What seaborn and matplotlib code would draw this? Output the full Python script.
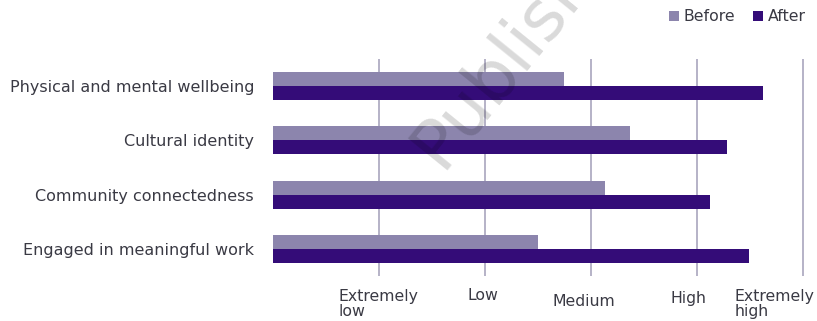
import matplotlib
matplotlib.use("Agg")
import matplotlib.pyplot as plt
import matplotlib.transforms as mtransforms
from matplotlib.patches import Patch
import seaborn as sns
import pandas as pd

# ---- data ----
categories = ["Physical and mental wellbeing", "Cultural identity",
              "Community connectedness", "Engaged in meaningful work"]
before_vals = [2.74, 3.37, 3.13, 2.50]
after_vals = [4.62, 4.28, 4.12, 4.49]
series_names = ["Before", "After"]
tick_values = [1, 2, 3, 4, 5]
tick_labels = ["Extremely\nlow", "Low", "Medium", "High", "Extremely\nhigh"]
watermark = "Published"

colors = {"Before": "#8C85AD", "After": "#340C78"}
text_color = "#3a3a44"

df = pd.DataFrame({
    "Category": categories * 2,
    "Value": before_vals + after_vals,
    "Period": [series_names[0]] * len(categories) + [series_names[1]] * len(categories),
})

sns.set_theme(style="white")
plt.rcParams["font.family"] = ["DejaVu Sans"]

W, H = 817, 321
fig = plt.figure(figsize=(W / 100, H / 100), dpi=100)
ax_left, ax_right, ax_top, ax_bottom = 272.8, 805.4, 59, 276
ax = fig.add_axes([ax_left / W, 1 - ax_bottom / H, (ax_right - ax_left) / W, (ax_bottom - ax_top) / H])

sns.barplot(data=df, y="Category", x="Value", hue="Period", order=categories,
            hue_order=series_names, palette=colors, orient="h", width=0.515,
            gap=0, saturation=1, ax=ax, legend=False, zorder=3, linewidth=0)

ax.set_xlim(0, 5.02)
ax.set_ylim(3.5, -0.5)
ax.set_xlabel("")
ax.set_ylabel("")
for s in ax.spines.values():
    s.set_visible(False)

ax.set_xticks(tick_values)
ax.set_xticklabels(tick_labels, fontsize=11.3, color=text_color,
                   multialignment="left", linespacing=1.05)
ax.tick_params(axis="x", length=0, pad=9)
ax.tick_params(axis="y", length=0, pad=13.5, labelsize=11.5, labelcolor=text_color)
ax.grid(axis="x", color="#A9A5BE", linewidth=1.2, zorder=0)
ax.grid(axis="y", visible=False)
ax.set_axisbelow(True)

# per-label nudges (pixels): dx, dy (positive dy = down)
nudges = [(0, 0), (-2, 0), (-7, 6), (-9, 3), (-29, 0)]
for lab, (dx, dy) in zip(ax.get_xticklabels(), nudges):
    off = mtransforms.ScaledTranslation(dx / 100, -dy / 100, fig.dpi_scale_trans)
    lab.set_transform(lab.get_transform() + off)
    lab.set_va("top")

handles = [Patch(facecolor=colors[n], edgecolor="none") for n in series_names]
fig.legend(handles, series_names, loc="upper right", bbox_to_anchor=(812 / W, 1 - 3 / H),
           ncol=2, frameon=False, fontsize=11.3, handlelength=0.65, handleheight=0.65,
           handletextpad=0.3, columnspacing=1.1, labelcolor=text_color, borderaxespad=0)

fig.text(440 / W, 1 - 170 / H, watermark, fontsize=50, color="black", alpha=0.15,
         rotation=51, rotation_mode="anchor", ha="left", va="baseline", zorder=10)

fig.savefig("out.png", dpi=100)
